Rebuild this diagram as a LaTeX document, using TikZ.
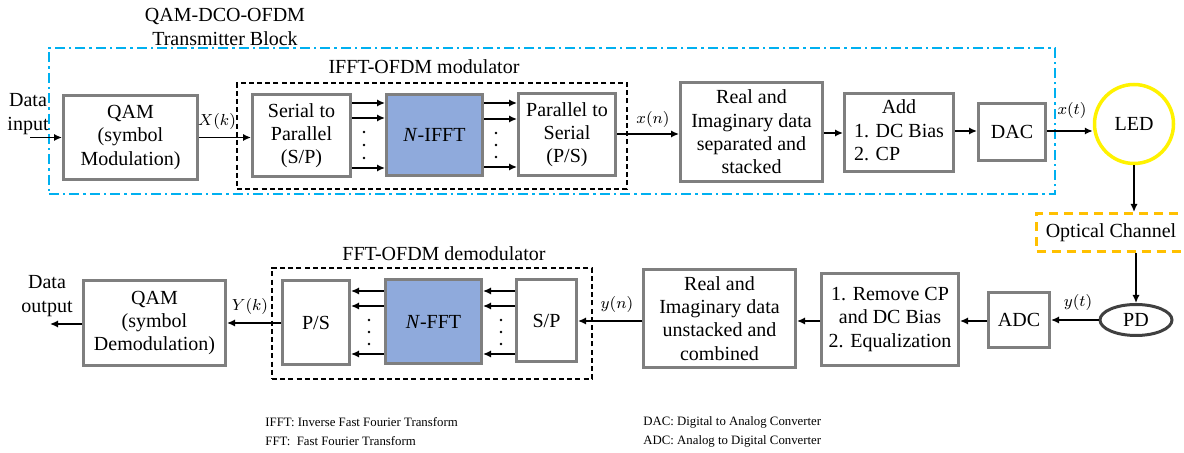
\documentclass[tikz,border=0pt]{standalone}
\usepackage{fontspec}
\setmainfont{Liberation Serif}
\usetikzlibrary{arrows.meta,shapes.geometric}
\definecolor{boxgray}{HTML}{7F7F7F}
\definecolor{fftblue}{HTML}{8FAADC}
\definecolor{txblue}{HTML}{00B0F0}
\definecolor{chorange}{HTML}{FFC000}
\definecolor{ledyellow}{HTML}{FFF200}
\definecolor{pdgray}{HTML}{404040}
\begin{document}
\begin{tikzpicture}[x=0.5pt,y=-0.5pt,
  box/.style={draw=boxgray, line width=1.5pt, fill=white, inner sep=0pt, align=center,
              font=\fontsize{10}{11.65}\selectfont},
  fftbox/.style={box, fill=fftblue},
  txt/.style={font=\fontsize{10}{11.65}\selectfont, align=center, inner sep=0pt},
  sig/.style={font=\fontsize{7.6}{9}\selectfont, inner sep=0pt},
  note/.style={font=\fontsize{6.4}{8}\selectfont, anchor=west, inner sep=0pt},
  arr/.style={-{Latex[length=4pt,width=3.6pt]}, line width=0.75pt},
  group/.style={draw, dash pattern=on 2.5pt off 1.6pt, line width=0.6pt, inner sep=0pt},
  dot/.style={circle, fill, inner sep=0pt, minimum size=1.4pt}
]
\useasboundingbox (0,0) rectangle (1184,453);
\clip (0,0) rectangle (1184,453);

% ---------- transmitter ----------
\node[draw=txblue, line width=0.75pt, dash pattern=on 5pt off 2pt on 1.2pt off 2pt,
      minimum width=503pt, minimum height=73pt, inner sep=0pt] (tx) at (552,121) {};
\node[txt] (txtitle) at (225,27) {QAM-DCO-OFDM\\Transmitter Block};

\node[group, minimum width=195pt, minimum height=53pt] (mod) at (432,136) {};
\node[txt] (modtitle) at (424,67) {IFFT-OFDM modulator};

\node[txt] (din) at (28,114) {Data\\input};
\coordinate (dinstart) at (30,137.5);

\node[box, minimum width=67pt, minimum height=42pt] (qam1) at (130.5,137.5) {QAM\\(symbol\\Modulation)};
\node[box, minimum width=49pt, minimum height=41pt] (sp1) at (301.5,135.5) {Serial to\\Parallel\\(S/P)};
\node[fftbox, minimum width=48pt, minimum height=40.5pt] (ifft) at (434.5,135) {\textit{N}-IFFT};
\node[box, minimum width=48.5pt, minimum height=41pt] (ps1) at (567,134.5) {Parallel to\\Serial\\(P/S)};
\node[box, minimum width=71pt, minimum height=49.5pt] (real1) at (751.5,132) {Real and\\Imaginary data\\separated and\\stacked};
\node[box, minimum width=54.5pt, minimum height=39pt] (add) at (899,132.5)
  {\begin{tabular}{@{}l@{}}\multicolumn{1}{@{}c@{}}{Add}\\1. DC Bias\\2. CP\end{tabular}};
\node[box, minimum width=33.5pt, minimum height=28.5pt] (dac) at (1012,132) {DAC};
\node[circle, draw=ledyellow, line width=1.75pt, minimum size=39.5pt, inner sep=0pt,
      font=\fontsize{10}{11.65}\selectfont] (led) at (1134,124) {LED};

\draw[arr] (dinstart) -- (qam1.west |- dinstart);
\draw[arr] (qam1.east) -- (qam1.east -| sp1.west);
\node[sig] (xk) at (217,122) {$X(k)$};
\foreach \y in {103,118,168} \draw[arr] (sp1.east |- 0,\y) -- (ifft.west |- 0,\y);
\foreach \y in {103,119,167} \draw[arr] (ifft.east |- 0,\y) -- (ps1.west |- 0,\y);
\foreach \y in {132,145,158} \node[dot] at (364,\y) {};
\foreach \y in {133,145,157} \node[dot] at (496,\y) {};
\draw[arr] (ps1.east |- 0,134) -- (real1.west |- 0,134);
\node[sig] (xn) at (653,120) {$x(n)$};
\draw[arr] (real1.east |- 0,133) -- (add.west |- 0,133);
\draw[arr] (add.east |- 0,131) -- (dac.west |- 0,131);
\draw[arr] (dac.east |- 0,131) -- (led.west |- 0,131);
\node[sig] (xt) at (1072,111) {$x(t)$};

% ---------- channel ----------
\node[draw=chorange, line width=1.5pt, dash pattern=on 4.5pt off 3pt,
      minimum width=74.5pt, minimum height=19pt, inner sep=0pt,
      font=\fontsize{10}{11.65}\selectfont] (opt) at (1111,232.5) {Optical Channel};
\node[ellipse, draw=pdgray, line width=1.5pt, minimum width=36pt, minimum height=15.5pt,
      inner sep=0pt, font=\fontsize{10}{11.65}\selectfont] (pd) at (1136,320) {PD};
\draw[arr] (led.south) -- (led.south |- opt.north);
\draw[arr] (opt.south -| pd.north) -- (pd.north);

% ---------- receiver ----------
\node[group, minimum width=160pt, minimum height=55.5pt] (demod) at (432,323.5) {};
\node[txt] (demodtitle) at (444,254) {FFT-OFDM demodulator};

\node[box, minimum width=30.5pt, minimum height=27.5pt] (adc) at (1019,320) {ADC};
\node[box, minimum width=68.5pt, minimum height=46pt] (rem) at (890,319.5) {1. Remove CP\\and DC Bias\\2. Equalization};
\node[box, minimum width=76pt, minimum height=49pt] (real2) at (719.5,318.5) {Real and\\Imaginary data\\unstacked and\\combined};
\node[box, minimum width=30pt, minimum height=41pt] (sp2) at (546.5,320.5) {S/P};
\node[fftbox, minimum width=48pt, minimum height=42pt] (fft) at (433.5,321.5) {\textit{N}-FFT};
\node[box, minimum width=33.5pt, minimum height=42pt] (ps2) at (316,322.5) {P/S};
\node[box, minimum width=71pt, minimum height=42.5pt] (qam2) at (154.5,323) {QAM\\(symbol\\Demodulation)};
\node[txt] (dout) at (47,296) {Data\\output};
\coordinate (doutend) at (50,324);

\draw[arr] (pd.west |- 0,320) -- (adc.east |- 0,320);
\node[sig] (yt) at (1078,303) {$y(t)$};
\draw[arr] (adc.west |- 0,321) -- (rem.east |- 0,321);
\draw[arr] (rem.west |- 0,321) -- (real2.east |- 0,321);
\draw[arr] (real2.west |- 0,321) -- (sp2.east |- 0,321);
\node[sig] (yn) at (617,305) {$y(n)$};
\foreach \y in {291,306,354} \draw[arr] (sp2.west |- 0,\y) -- (fft.east |- 0,\y);
\foreach \y in {291,306,354} \draw[arr] (fft.west |- 0,\y) -- (ps2.east |- 0,\y);
\foreach \y in {320,332,344} \node[dot] at (369,\y) {};
\foreach \y in {320,332,344} \node[dot] at (501,\y) {};
\draw[arr] (ps2.west |- 0,323) -- (qam2.east |- 0,323);
\node[sig] (yk) at (250,307) {$Y(k)$};
\draw[arr] (qam2.west |- doutend) -- (doutend);

% ---------- abbreviations ----------
\node[note] (n1) at (265,422) {IFFT: Inverse Fast Fourier Transform};
\node[note] (n2) at (265,441) {FFT:\ \ Fast Fourier Transform};
\node[note] (n3) at (643,422) {DAC: Digital to Analog Converter};
\node[note] (n4) at (643,441) {ADC: Analog to Digital Converter};
\end{tikzpicture}
\end{document}
